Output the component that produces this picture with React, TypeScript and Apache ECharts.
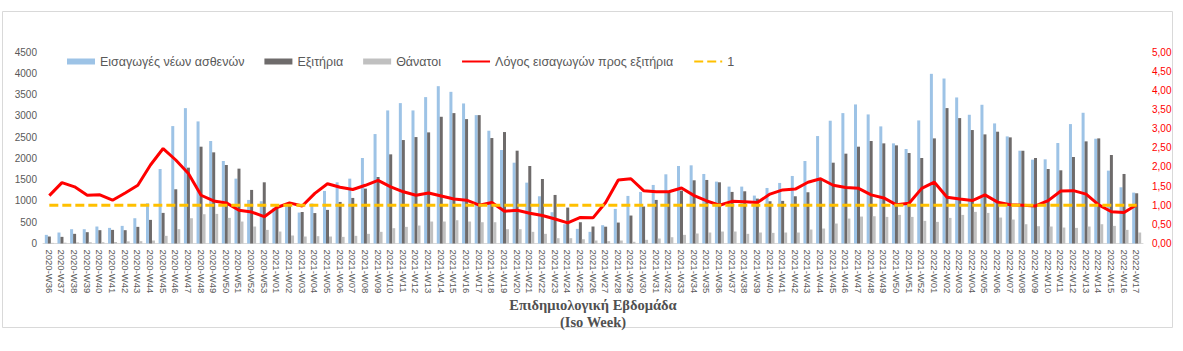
import React, { useEffect, useRef } from "react";
import * as echarts from "echarts";

const weeks: string[] = [
  "2020-W36", "2020-W37", "2020-W38", "2020-W39", "2020-W40", "2020-W41", "2020-W42", "2020-W43", "2020-W44",
  "2020-W45", "2020-W46", "2020-W47", "2020-W48", "2020-W49", "2020-W50", "2020-W51", "2020-W52", "2020-W53",
  "2021-W01", "2021-W02", "2021-W03", "2021-W04", "2021-W05", "2021-W06", "2021-W07", "2021-W08", "2021-W09",
  "2021-W10", "2021-W11", "2021-W12", "2021-W13", "2021-W14", "2021-W15", "2021-W16", "2021-W17", "2021-W18",
  "2021-W19", "2021-W20", "2021-W21", "2021-W22", "2021-W23", "2021-W24", "2021-W25", "2021-W26", "2021-W27",
  "2021-W28", "2021-W29", "2021-W30", "2021-W31", "2021-W32", "2021-W33", "2021-W34", "2021-W35", "2021-W36",
  "2021-W37", "2021-W38", "2021-W39", "2021-W40", "2021-W41", "2021-W42", "2021-W43", "2021-W44", "2021-W45",
  "2021-W46", "2021-W47", "2021-W48", "2021-W49", "2021-W50", "2021-W51", "2021-W52",
  "2022-W01", "2022-W02", "2022-W03", "2022-W04", "2022-W05", "2022-W06", "2022-W07", "2022-W08", "2022-W09",
  "2022-W10", "2022-W11", "2022-W12", "2022-W13", "2022-W14", "2022-W15", "2022-W16", "2022-W17",
];

const admissions: number[] = [
  203, 258, 336, 336, 399, 367, 414, 594, 946, 1751, 2759, 3181, 2869, 2408, 1939, 1524, 1024, 993,
  840, 940, 727, 940, 1235, 1438, 1524, 2009, 2572, 3127, 3299, 3127, 3440, 3697, 3564, 3291, 3017, 2650,
  2197, 1899, 1430, 1110, 735, 453, 344, 274, 430, 813, 1118, 1212, 1376, 1626, 1821, 1837, 1634, 1454,
  1337, 1337, 1126, 1305, 1423, 1587, 1939, 2525, 2885, 3064, 3268, 3033, 2752, 2353, 2220, 2892,
  3987, 3877, 3432, 3025, 3260, 2822, 2517, 2181, 1970, 1978, 2361, 2806, 3072, 2462, 1712, 1321, 1196,
];

const discharges: number[] = [
  164, 156, 227, 266, 313, 320, 313, 391, 555, 719, 1274, 1782, 2275, 2142, 1845, 1759, 1259, 1438,
  890, 890, 740, 715, 790, 977, 1071, 1290, 1563, 2095, 2431, 2501, 2611, 2978, 3064, 2923, 3017, 2478,
  2619, 2181, 1821, 1516, 1141, 844, 500, 399, 395, 492, 657, 868, 1024, 1196, 1243, 1485, 1493, 1438,
  1212, 1227, 1055, 993, 1001, 1110, 1204, 1493, 1899, 2111, 2275, 2408, 2353, 2306, 2126, 2009,
  2470, 3182, 2947, 2666, 2564, 2627, 2494, 2181, 2009, 1751, 1720, 2032, 2400, 2470, 2079, 1634, 1180,
];

const deaths: number[] = [
  15, 20, 25, 30, 30, 35, 50, 55, 70, 180, 337, 594, 688, 696, 602, 516, 399, 320,
  281, 188, 164, 172, 164, 156, 180, 227, 274, 360, 391, 422, 516, 516, 547, 516, 500, 500,
  336, 336, 274, 227, 125, 125, 100, 70, 55, 70, 40, 86, 117, 148, 203, 235, 258, 281,
  281, 227, 258, 250, 258, 258, 328, 352, 469, 586, 633, 641, 625, 672, 625, 532,
  508, 602, 672, 743, 719, 610, 563, 453, 406, 399, 375, 367, 399, 453, 414, 320, 258,
];

const ratio: number[] = [
  1.25, 1.59, 1.48, 1.26, 1.27, 1.13, 1.32, 1.52, 2.05, 2.48, 2.18, 1.83, 1.26, 1.11, 1.06, 0.87, 0.82, 0.7,
  0.94, 1.06, 0.98, 1.31, 1.56, 1.47, 1.41, 1.52, 1.65, 1.48, 1.35, 1.26, 1.32, 1.24, 1.16, 1.13, 1.0, 1.07,
  0.84, 0.87, 0.79, 0.73, 0.64, 0.54, 0.68, 0.67, 1.07, 1.66, 1.69, 1.38, 1.35, 1.35, 1.45, 1.25, 1.11, 1.0,
  1.1, 1.09, 1.07, 1.29, 1.4, 1.42, 1.6, 1.69, 1.52, 1.46, 1.44, 1.27, 1.19, 1.01, 1.05, 1.44,
  1.6, 1.21, 1.16, 1.12, 1.27, 1.08, 1.01, 1.0, 0.98, 1.12, 1.37, 1.38, 1.29, 1.01, 0.83, 0.81, 1.01,
];

const thresholdValue = 1;

const seriesNames = [
  "Εισαγωγές νέων ασθενών",
  "Εξιτήρια",
  "Θάνατοι",
  "Λόγος εισαγωγών προς εξιτήρια",
  "1",
];

const FONT = "Liberation Sans, Arial, sans-serif";

export default function App() {
  const ref = useRef<HTMLDivElement>(null);

  useEffect(() => {
    if (!ref.current) return;
    const chart = echarts.init(ref.current, null, { renderer: "svg" });
    const barBase = { type: "bar", barWidth: 3, barGap: "0%", barCategoryGap: "35%" };
    chart.setOption({
      animation: false,
      backgroundColor: "#ffffff",
      textStyle: { fontFamily: FONT },
      graphic: [
        {
          type: "rect",
          shape: { x: 2.5, y: 11.5, width: 1170, height: 316 },
          style: { fill: "none", stroke: "#D9D9D9", lineWidth: 1 },
          silent: true,
        },
      ],
      legend: {
        left: 62,
        top: 50,
        itemWidth: 28,
        itemHeight: 6,
        itemGap: 20,
        textStyle: { color: "#595959", fontSize: 12.5, fontFamily: FONT },
        data: [
          { name: seriesNames[0], icon: "rect" },
          { name: seriesNames[1], icon: "rect" },
          { name: seriesNames[2], icon: "rect" },
          { name: seriesNames[3], itemStyle: { opacity: 0 } },
          { name: seriesNames[4], itemStyle: { opacity: 0 } },
        ],
      },
      grid: { left: 43, right: 40, top: 52, bottom: 107.5, containLabel: false },
      xAxis: {
        type: "category",
        data: weeks,
        axisLine: { lineStyle: { color: "#D9D9D9" } },
        axisTick: { show: false },
        axisLabel: {
          interval: 0,
          rotate: -90,
          color: "#595959",
          fontSize: 9.5,
          fontFamily: FONT,
          margin: 6,
        },
        name: "Επιδημιολογική Εβδομάδα\n(Iso Week)",
        nameLocation: "middle",
        nameGap: 53,
        nameMoveOverlap: false,
        nameTextStyle: {
          fontFamily: "Liberation Serif, Times New Roman, serif",
          fontWeight: "bold",
          fontSize: 14.5,
          color: "#505050",
          lineHeight: 17,
          verticalAlign: "top",
        },
      },
      yAxis: [
        {
          type: "value",
          min: 0,
          max: 4500,
          interval: 500,
          splitLine: { show: false },
          axisLine: { show: false },
          axisTick: { show: false },
          axisLabel: {
            color: "#595959",
            fontSize: 10,
            fontFamily: FONT,
            margin: 6,
            formatter: (v: number) => String(v),
          },
        },
        {
          type: "value",
          min: 0,
          max: 5,
          interval: 0.5,
          position: "right",
          splitLine: { show: false },
          axisLine: { show: false },
          axisTick: { show: false },
          axisLabel: {
            color: "#FF0000",
            fontSize: 10,
            fontFamily: FONT,
            margin: 9,
            formatter: (v: number) => v.toFixed(2).replace(".", ","),
          },
        },
      ],
      series: [
        { ...barBase, name: seriesNames[0], data: admissions, itemStyle: { color: "#9DC3E6" } },
        { ...barBase, name: seriesNames[1], data: discharges, itemStyle: { color: "#6E6B6B" } },
        { ...barBase, name: seriesNames[2], data: deaths, itemStyle: { color: "#C0C0C0" } },
        {
          type: "line",
          name: seriesNames[3],
          yAxisIndex: 1,
          data: ratio,
          symbol: "none",
          showSymbol: false,
          lineStyle: { color: "#FF0000", width: 3 },
          itemStyle: { color: "#FF0000" },
          z: 5,
        },
        {
          type: "line",
          name: seriesNames[4],
          yAxisIndex: 1,
          data: weeks.map(() => thresholdValue),
          symbol: "none",
          showSymbol: false,
          lineStyle: { color: "#FFC000", width: 3, type: [9, 4] },
          itemStyle: { color: "#FFC000" },
          z: 6,
        },
      ],
    });
    return () => chart.dispose();
  }, []);

  return (
    <div
      ref={ref}
      style={{ position: "fixed", left: 0, top: 0, width: 1183, height: 351, background: "#fff" }}
    />
  );
}
